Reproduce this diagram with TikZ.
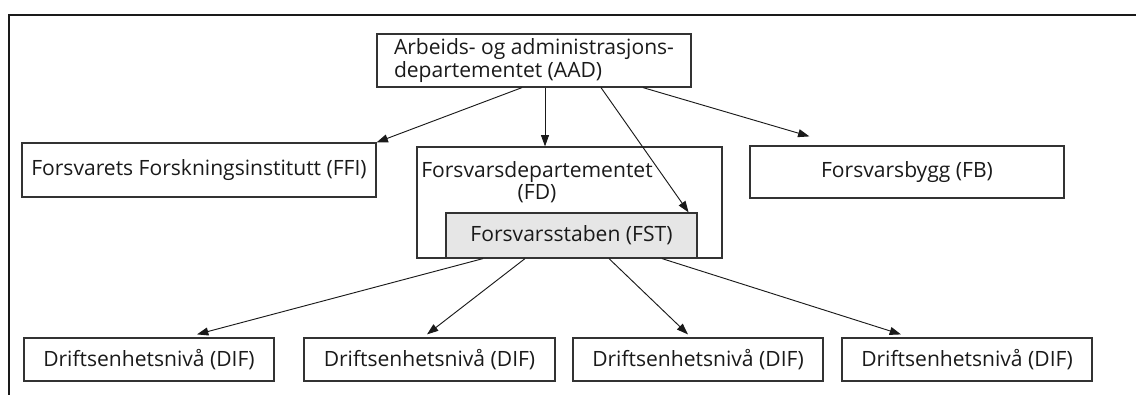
\documentclass[tikz,border=0pt]{standalone}
\usepackage{fontspec}
\setmainfont{Open Sans}
\usetikzlibrary{arrows.meta,calc}
\definecolor{linegray}{HTML}{333333}
\definecolor{textgray}{HTML}{1A1A1A}
\definecolor{fstfill}{HTML}{E6E6E6}
\tikzset{
  box/.style={draw=linegray, line width=0.9pt, rectangle, inner sep=0pt, text=textgray,
    font=\fontsize{15.8}{13.8}\selectfont, align=center},
  arr/.style={draw=textgray, line width=0.7pt, -{Triangle[length=8.5pt,width=6pt]}},
  frame/.style={draw=textgray, line width=1.9pt}
}
\begin{document}
\begin{tikzpicture}[x=0.75pt,y=-0.75pt]
\useasboundingbox (0,0) rectangle (1136,395);
% frame
\coordinate (fc) at (9,15);
\coordinate (fr) at (1136,15);
\coordinate (fb0) at (9,395);
\draw[frame] (fr) -- (fc) -- (fb0);
% nodes
\node[box, minimum width=235.5pt, minimum height=39.75pt, align=left] (aad) at (534,60.5)
  {Arbeids- og administrasjons-\\departementet (AAD)};
\node[box, minimum width=265.5pt, minimum height=40.5pt] (ffi) at (199,170)
  {Forsvarets Forskningsinstitutt (FFI)};
\node[box, minimum width=228.75pt, minimum height=83.25pt] (fd) at (569.5,202.5) {};
\node[box, draw=none, inner sep=0pt] (fdlabel) at (537,182)
  {Forsvarsdepartementet\\(FD)};
\node[box, fill=fstfill, minimum width=188.25pt, minimum height=33.75pt] (fst) at (571.5,235.5)
  {Forsvarsstaben (FST)};
\node[box, minimum width=235.5pt, minimum height=39pt] (fb) at (907,172)
  {Forsvarsbygg (FB)};
\node[box, minimum width=187.5pt, minimum height=32.25pt] (dif1) at (149,359.5) {Driftsenhetsnivå (DIF)};
\node[box, minimum width=188.25pt, minimum height=32.25pt] (dif2) at (429.5,359.5) {Driftsenhetsnivå (DIF)};
\node[box, minimum width=187.5pt, minimum height=32.25pt] (dif3) at (698,359.5) {Driftsenhetsnivå (DIF)};
\node[box, minimum width=187.5pt, minimum height=32.25pt] (dif4) at (967,359.5) {Driftsenhetsnivå (DIF)};
% arrows from AAD
\draw[arr] ($(aad.south)+(-12,0)$) -- (ffi.north east);
\draw[arr] ($(aad.south)+(11,0)$) -- ($(fd.north)+(-24.5,0)$);
\draw[arr] ($(aad.south)+(67,0)$) -- ($(fst.north east)+(-9,0)$);
\draw[arr] ($(aad.south)+(109,0)$) -- ($(fb.north west)+(60,-9)$);
% arrows from FST
\draw[arr] ($(fst.south)+(-88.5,0)$) -- ($(dif1.north)+(48,-3)$);
\draw[arr] ($(fst.south)+(-46.5,0)$) -- ($(dif2.north)+(-2.5,-3)$);
\draw[arr] ($(fst.south)+(37.5,0)$) -- ($(dif3.north)+(-10,-3)$);
\draw[arr] ($(fst.south)+(90.5,0)$) -- ($(dif4.north)+(-66,-3)$);
\end{tikzpicture}
\end{document}
